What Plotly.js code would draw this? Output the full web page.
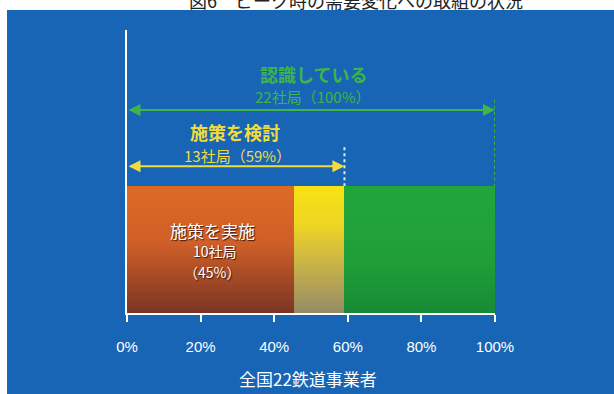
<!DOCTYPE html>
<html>
<head>
<meta charset="utf-8">
<script src="https://cdn.plot.ly/plotly-3.0.1.min.js"></script>
<style>html,body{margin:0;padding:0;background:#fff;}#chart{width:614px;height:394px;}</style>
</head>
<body>
<div id="chart"></div>
<script>
// Data
var categories = ['全国22鉄道事業者'];
var segNames = ['施策を実施', '施策を検討', '認識している'];
var segValues = [45.45, 13.64, 40.91];   // % of 22 operators (10, 3, 9)
var segCounts = [10, 3, 9];
var cumLabels = ['10社局（45%）', '13社局（59%）', '22社局（100%）'];
var cumValues = [45.45, 59.09, 100];
var tickVals = [0, 20, 40, 60, 80, 100];
var tickText = ['0%', '20%', '40%', '60%', '80%', '100%'];

var blue = '#1865b5';
var green = '#3db548';
var yellow = '#f2dc3c';
var jp = '"Noto Sans CJK JP", "Noto Sans", sans-serif';

var traces = segValues.map(function (v, i) {
  return {
    type: 'bar', orientation: 'h', x: [v], y: [0], name: segNames[i],
    width: 1, marker: {color: ['#d8662a', '#e8d030', '#23a23a'][i], line: {width: 0}},
    hoverinfo: 'skip', showlegend: false
  };
});

var yArrowGreen = 1.098, yArrowYellow = 0.655;
var pxToPaperX = function (px) { return (px - 127) / 368; };
var pxToPaperY = function (py) { return (313 - py) / 283; };

function label(px, py, text, font) {
  return {xref: 'paper', yref: 'paper', x: pxToPaperX(px), y: pxToPaperY(py), xanchor: 'center', yanchor: 'middle',
    text: text, showarrow: false, font: font};
}

var shadowFont = function (size) {
  return {family: jp, size: size, color: '#ffffff', shadow: '1px 1px 1px #3a1a10'};
};

var layout = {
  width: 614, height: 394,
  margin: {l: 127, r: 119, t: 30, b: 81},
  paper_bgcolor: blue, plot_bgcolor: 'rgba(0,0,0,0)',
  barmode: 'stack', bargap: 0,
  xaxis: {
    range: [0, 100], tickvals: tickVals, ticktext: tickText,
    showgrid: false, zeroline: false, showline: true, linecolor: '#ffffff', linewidth: 2,
    ticks: 'outside', ticklen: 7, tickwidth: 2, tickcolor: '#ffffff',
    ticklabelstandoff: 12,
    tickfont: {family: '"Liberation Sans", Arial, sans-serif', size: 15, color: '#ffffff'},
    fixedrange: true
  },
  yaxis: {
    range: [-0.5, 1.728], showticklabels: false, ticks: '', showgrid: false, zeroline: false,
    showline: true, linecolor: '#ffffff', linewidth: 2, fixedrange: true
  },
  shapes: [
    // white page margins (top and left)
    {type: 'rect', xref: 'paper', yref: 'paper', x0: pxToPaperX(-5), x1: pxToPaperX(620), y0: pxToPaperY(10), y1: pxToPaperY(-5), fillcolor: '#ffffff', line: {width: 0}, layer: 'below'},
    {type: 'rect', xref: 'paper', yref: 'paper', x0: pxToPaperX(-5), x1: pxToPaperX(7), y0: pxToPaperY(400), y1: pxToPaperY(-5), fillcolor: '#ffffff', line: {width: 0}, layer: 'below'},
    // dotted guide lines
    {type: 'line', xref: 'x', yref: 'y', x0: cumValues[2], x1: cumValues[2], y0: yArrowGreen + 0.08, y1: 0.5, line: {color: green, width: 2, dash: 'dot'}},
    {type: 'line', xref: 'x', yref: 'y', x0: cumValues[1], x1: cumValues[1], y0: yArrowYellow + 0.15, y1: 0.5, line: {color: '#e6ecd0', width: 2, dash: 'dot'}}
  ],
  annotations: [
    // cut-off figure title
    label(356, 0, '図6　ピーク時の需要変化への取組の状況', {family: jp, size: 18, color: '#222222'}),
    // arrows
    {x: cumValues[2], y: yArrowGreen, ax: 0, ay: yArrowGreen, axref: 'x', ayref: 'y', xref: 'x', yref: 'y',
      text: '', showarrow: true, arrowside: 'end+start', arrowhead: 2, startarrowhead: 2, arrowsize: 1.2, startarrowsize: 1.2,
      arrowwidth: 2, arrowcolor: green, standoff: 0, startstandoff: 0},
    {x: cumValues[1], y: yArrowYellow, ax: 0, ay: yArrowYellow, axref: 'x', ayref: 'y', xref: 'x', yref: 'y',
      text: '', showarrow: true, arrowside: 'end+start', arrowhead: 2, startarrowhead: 2, arrowsize: 1.2, startarrowsize: 1.2,
      arrowwidth: 2, arrowcolor: yellow, standoff: 0, startstandoff: 0},
    // labels
    label(313, 74, '<b>' + segNames[2] + '</b>', {family: jp, size: 18, color: green}),
    label(312, 96, cumLabels[2], {family: jp, size: 15, color: green}),
    label(235, 132, '<b>' + segNames[1] + '</b>', {family: jp, size: 18, color: yellow}),
    label(237, 155, cumLabels[1], {family: jp, size: 15, color: yellow}),
    label(212, 230, segNames[0], shadowFont(17)),
    label(215, 251, segCounts[0] + '社局', shadowFont(14)),
    label(212, 272, '（45%）', shadowFont(14)),
    // axis title
    label(308, 378, categories[0], {family: jp, size: 17, color: '#ffffff'})
  ]
};

Plotly.newPlot('chart', traces, layout, {displayModeBar: false, staticPlot: true}).then(function () {
  var svg = document.querySelector('#chart .main-svg');
  var ns = 'http://www.w3.org/2000/svg';
  var defs = document.createElementNS(ns, 'defs');
  var grads = [
    [['0', '#de6a24'], ['0.45', '#cf5f28'], ['1', '#7a3424']],
    [['0', '#f8e214'], ['0.3', '#eed624'], ['0.65', '#c4b04a'], ['1', '#958a66']],
    [['0', '#22a63c'], ['0.6', '#1f9e38'], ['1', '#188a36']]
  ];
  grads.forEach(function (stops, i) {
    var g = document.createElementNS(ns, 'linearGradient');
    g.setAttribute('id', 'barGrad' + i);
    g.setAttribute('x1', '0'); g.setAttribute('y1', '0');
    g.setAttribute('x2', '0'); g.setAttribute('y2', '1');
    stops.forEach(function (s) {
      var st = document.createElementNS(ns, 'stop');
      st.setAttribute('offset', s[0]);
      st.setAttribute('stop-color', s[1]);
      g.appendChild(st);
    });
    defs.appendChild(g);
  });
  svg.insertBefore(defs, svg.firstChild);
  var paths = document.querySelectorAll('#chart .barlayer .trace');
  paths.forEach(function (tr, i) {
    tr.querySelectorAll('path').forEach(function (p) { p.style.fill = 'url(#barGrad' + i + ')'; });
  });
});
</script>
</body>
</html>
